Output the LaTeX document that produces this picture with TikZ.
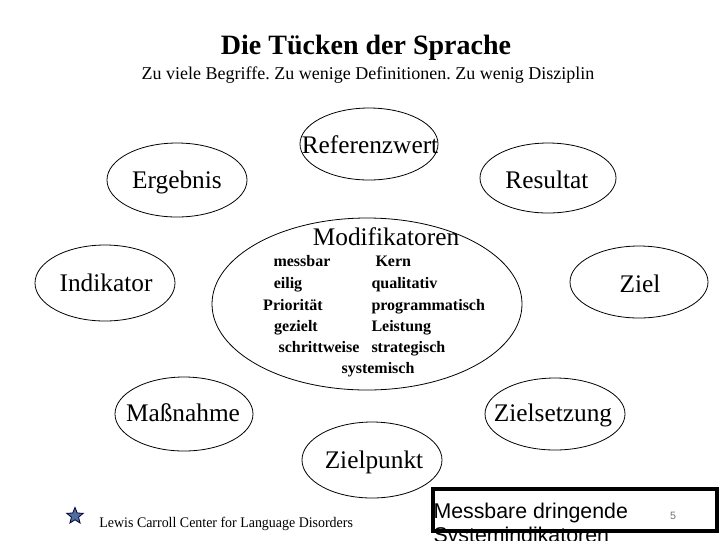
\documentclass[tikz,border=0pt]{standalone}
\usepackage{fontspec}
\setmainfont{Liberation Serif}
\newfontfamily\boxfont{Liberation Sans}
\usetikzlibrary{shapes.geometric}
\frenchspacing

\tikzset{every picture/.style={line width=0.75pt}}
\tikzset{
  ell/.style={draw, ellipse, line width=0.6, inner sep=0pt},
  elltext/.style={anchor=base, font=\fontsize{19}{22}\selectfont},
  modword/.style={anchor=base, font=\fontsize{12}{14}\selectfont\bfseries}
}

\begin{document}
\begin{tikzpicture}[x=0.75pt,y=0.75pt,yscale=-1,xscale=1]
%set diagram frame 720 x 540
\clip (0,0) rectangle (720,540);
\fill [white] (0,0) rectangle (720,540);

% Text Node
\draw (366,54) node [anchor=base] (title) {\fontsize{21}{24}\selectfont\bfseries Die Tücken der Sprache};
% Text Node
\draw (368,79) node [anchor=base] (subtitle) {\fontsize{13.5}{16}\selectfont Zu viele Begriffe. Zu wenige Definitionen. Zu wenig Disziplin};

%Shape: Ellipse [Referenzwert]
\node [ell, minimum width=103.5pt, minimum height=54pt] (refw) at (369,144) {};
%Shape: Ellipse [Ergebnis]
\node [ell, minimum width=105pt, minimum height=55.5pt] (ergeb) at (177,180) {};
%Shape: Ellipse [Resultat]
\node [ell, minimum width=102pt, minimum height=52.5pt] (result) at (548,178) {};
%Shape: Ellipse [Indikator]
\node [ell, minimum width=105pt, minimum height=57pt] (indik) at (105,283) {};
%Shape: Ellipse [Ziel]
\node [ell, minimum width=103.5pt, minimum height=54pt] (ziel) at (639,282) {};
%Shape: Ellipse [Modifikatoren]
\node [ell, minimum width=232.5pt, minimum height=129pt] (modif) at (367,304) {};
%Shape: Ellipse [Massnahme]
\node [ell, minimum width=103.5pt, minimum height=55.5pt] (massn) at (184,414) {};
%Shape: Ellipse [Zielsetzung]
\node [ell, minimum width=105pt, minimum height=54pt] (zielsetz) at (555,414) {};
%Shape: Ellipse [Zielpunkt]
\node [ell, minimum width=105pt, minimum height=57pt] (zielpkt) at (372,460) {};

% Text Node
\draw (370,153) node [elltext] {Referenzwert};
% Text Node
\draw (177,188) node [elltext] {Ergebnis};
% Text Node
\draw (547,188) node [elltext] {Resultat};
% Text Node
\draw (106,291) node [elltext] {Indikator};
% Text Node
\draw (640,292) node [elltext] {Ziel};
% Text Node
\draw (183,421) node [elltext] {Maßnahme};
% Text Node
\draw (553,421) node [elltext] {Zielsetzung};
% Text Node
\draw (374,468) node [elltext] {Zielpunkt};

% Text Node
\draw (386,245) node [elltext] {Modifikatoren};
% Text Node
\draw (302,266) node [modword] {messbar};
% Text Node
\draw (288,288) node [modword] {eilig};
% Text Node
\draw (293,310) node [modword] {Priorität};
% Text Node
\draw (296,331) node [modword] {gezielt};
% Text Node
\draw (319,352) node [modword] {schrittweise};
% Text Node
\draw (375,266) node [modword, anchor=base west, inner sep=0pt] {Kern};
% Text Node
\draw (371,288) node [modword, anchor=base west, inner sep=0pt] {qualitativ};
% Text Node
\draw (371,310) node [modword, anchor=base west, inner sep=0pt] {programmatisch};
% Text Node
\draw (371,331) node [modword, anchor=base west, inner sep=0pt] {Leistung};
% Text Node
\draw (371,352) node [modword, anchor=base west, inner sep=0pt] {strategisch};
% Text Node
\draw (378,373) node [modword] {systemisch};

%Shape: Star
\node [star, star points=5, star point ratio=2.3, draw=black!80!blue, fill={rgb,255:red,80; green,110; blue,160}, line width=0.6, minimum size=13pt, inner sep=0pt] (logo) at (75,516) {};
% Text Node
\draw (99,527) node [anchor=base west, inner sep=0pt, xscale=0.95] (footer) {\fontsize{11}{13}\selectfont Lewis Carroll Center for Language Disorders};

%Shape: Rectangle
\draw [line width=3pt] (433,489) rectangle (717,531);
% Text Node
\draw (433,503) node [anchor=north west, inner sep=0pt, align=left, font=\boxfont\fontsize{16}{18}\selectfont] (boxtext) {Messbare dringende\\Systemindikatoren};
% Text Node
\draw (673,519) node [anchor=base, text=black!55, font=\boxfont\fontsize{8}{10}\selectfont] (pageno) {5};

\end{tikzpicture}
\end{document}
